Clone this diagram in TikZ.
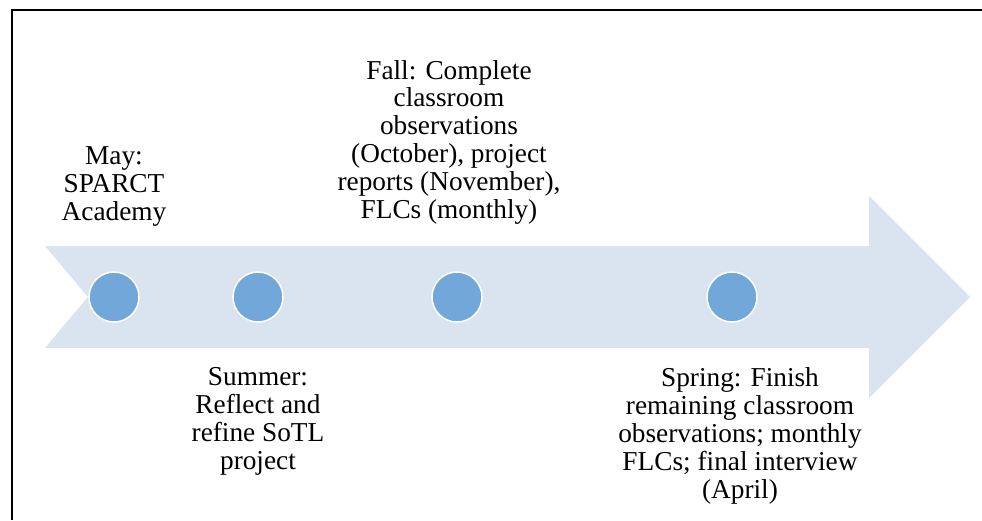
\documentclass[tikz,border=0pt]{standalone}
\usepackage{fontspec}
\setmainfont{Liberation Serif}
\definecolor{bandblue}{HTML}{DAE3F0}
\definecolor{dotblue}{HTML}{72A7D9}
\begin{document}
\begin{tikzpicture}[x=1pt,y=-1pt,
  milestone/.style={circle,fill=dotblue,draw=white,line width=1.5pt,minimum size=50pt,inner sep=0pt},
  label/.style={align=center,anchor=base,inner sep=0pt,font=\fontsize{27.3}{27.8}\selectfont}]
\useasboundingbox (0,0) rectangle (982,520);
% frame (top and left edges)
\draw[line width=2pt] (982,10.3) -- (11.8,10.3) -- (11.8,520);
% timeline arrow
\fill[bandblue] (45,246) -- (869,246) -- (869,196) -- (970,297) -- (869,398)
  -- (869,348) -- (45,348) -- (88,297) -- cycle;
% milestones
\node[milestone] (may) at (114,297) {};
\node[milestone] (summer) at (258,297) {};
\node[milestone] (fall) at (457,297) {};
\node[milestone] (spring) at (732,297) {};
% descriptions (anchored at the baseline of the last line)
\node[label] (maytext) at (114,220) {May:\\SPARCT\\Academy};
\node[label] (falltext) at (449,218) {Fall: Complete\\classroom\\observations\\(October), project\\reports (November),\\FLCs (monthly)};
\node[label] (summertext) at (258,469) {Summer:\\Reflect and\\refine SoTL\\project};
\node[label] (springtext) at (740,498) {Spring: Finish\\remaining classroom\\observations; monthly\\FLCs; final interview\\(April)};
\end{tikzpicture}
\end{document}
